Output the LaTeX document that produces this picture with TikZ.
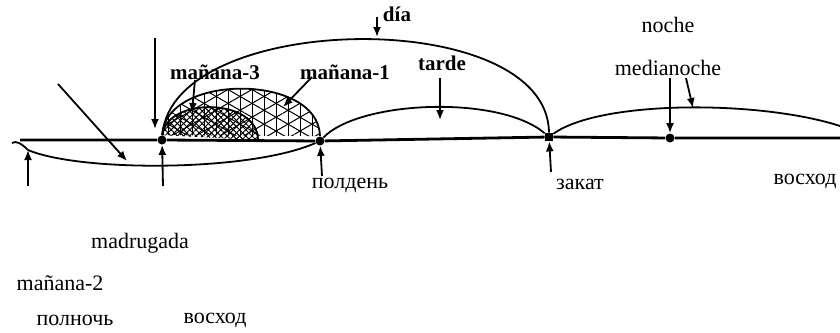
\documentclass[tikz,border=0pt]{standalone}
\usepackage{fontspec}
\setmainfont{Liberation Serif}
\usetikzlibrary{arrows.meta, patterns.meta}
\tikzstyle{dot} = [circle, fill=black, inner sep=0pt, minimum size=4.5pt]
\tikzstyle{arrow} = [line width=0.9pt, -{Latex[length=5pt,width=4pt]}]
\tikzstyle{curve} = [line width=0.9pt]
\tikzstyle{lbl} = [inner sep=0pt, font=\fontsize{11}{13}\selectfont]
\tikzstyle{blbl} = [inner sep=0pt, font=\fontsize{10.5}{12}\selectfont\bfseries]

\begin{document}
\begin{tikzpicture}[x=0.5pt, y=-0.5pt]
      \useasboundingbox (0,0) rectangle (840,332);

      % Puntos sobre la línea del tiempo
      \coordinate (izq) at (20,140);
      \coordinate (der) at (840,138);
      \coordinate (medianoche0) at (28,150);
      \node[dot] (alba) at (162,140) {};
      \node[dot] (mediodia) at (320,141) {};
      \node[dot, rectangle, minimum size=4pt] (ocaso) at (549,137) {};
      \node[dot] (medianoche) at (670,138) {};
      \coordinate (fin) at (840,126);

      % Cúpulas rayadas (mañana-1, mañana-3)
      \foreach \ang in {30,90,150}
        \fill[pattern={Lines[angle=\ang,distance=6pt,line width=0.5pt]}]
          (alba) .. controls (165,73) and (319,73) .. (mediodia) -- cycle;
      \foreach \ang in {45,-45}
        \fill[pattern={Lines[angle=\ang,distance=2.2pt,line width=0.5pt]}]
          (alba) .. controls (166,97) and (258,97) .. (258,140) -- cycle;
      \draw[curve] (alba) .. controls (165,73) and (319,73) .. (mediodia);
      \draw[curve] (alba) .. controls (166,97) and (258,97) .. (258,140);

      % Línea base y curvas
      \draw[line width=1.4pt] (izq) -- (alba) -- (mediodia) -- (ocaso) -- (medianoche) -- (der);
      \draw[curve] (12,143) .. controls (16,140) and (22,144) .. (medianoche0);
      \draw[curve] (medianoche0) .. controls (80,172) and (250,172) .. (mediodia);
      \draw[curve] (alba) .. controls (172,10) and (548,5) .. (ocaso);
      \draw[curve] (mediodia) .. controls (360,100) and (500,95) .. (ocaso);
      \draw[curve] (ocaso) .. controls (600,100) and (760,100) .. (fin);

      % Etiquetas
      \node[blbl] (dia) at (397,14) {día};
      \node[blbl] (man3) at (215,72) {mañana-3};
      \node[blbl] (man1) at (345,72) {mañana-1};
      \node[blbl] (tarde) at (442,63) {tarde};
      \node[lbl] (noche) at (668,25) {noche};
      \node[lbl] (mednoche) at (668,68) {medianoche};
      \node[lbl] (polden) at (350,185) {полдень};
      \node[lbl] (zakat) at (580,184) {закат};
      \node[lbl] (voshod1) at (805,181) {восход};
      \node[lbl] (madrugada) at (140,243) {madrugada};
      \node[lbl] (man2) at (60,283) {mañana-2};
      \node[lbl] (polnoch) at (75,320) {полночь};
      \node[lbl] (voshod2) at (215,320) {восход};

      % Flechas hacia abajo
      \coordinate (t1) at (377,17);  \coordinate (h1) at (377,37);
      \coordinate (t2) at (195,80);  \coordinate (h2) at (192,113);
      \coordinate (t3) at (312,77);  \coordinate (h3) at (283,107);
      \coordinate (t4) at (440,78);  \coordinate (h4) at (440,120);
      \coordinate (t5) at (670,78);
      \coordinate (t6) at (686,78);  \coordinate (h6) at (693,108);
      \coordinate (t7) at (155,38);  \coordinate (h7) at (155,129);
      \coordinate (t8) at (58,84);   \coordinate (h8) at (127,161);
      \draw[arrow] (t1) -- (h1);
      \draw[arrow] (t2) -- (h2);
      \draw[arrow] (t3) -- (h3);
      \draw[arrow] (t4) -- (h4);
      \draw[arrow] (t5) -- (medianoche);
      \draw[arrow] (t6) -- (h6);
      \draw[arrow] (t7) -- (h7);
      \draw[arrow] (t8) -- (h8);

      % Flechas hacia arriba
      \coordinate (b1) at (28,186);
      \coordinate (b2) at (163,186);
      \coordinate (b3) at (322,176);
      \coordinate (b4) at (551,172);
      \draw[arrow] (b1) -- (medianoche0);
      \draw[arrow] (b2) -- (alba);
      \draw[arrow] (b3) -- (mediodia);
      \draw[arrow] (b4) -- (ocaso);
    \end{tikzpicture}
\end{document}
